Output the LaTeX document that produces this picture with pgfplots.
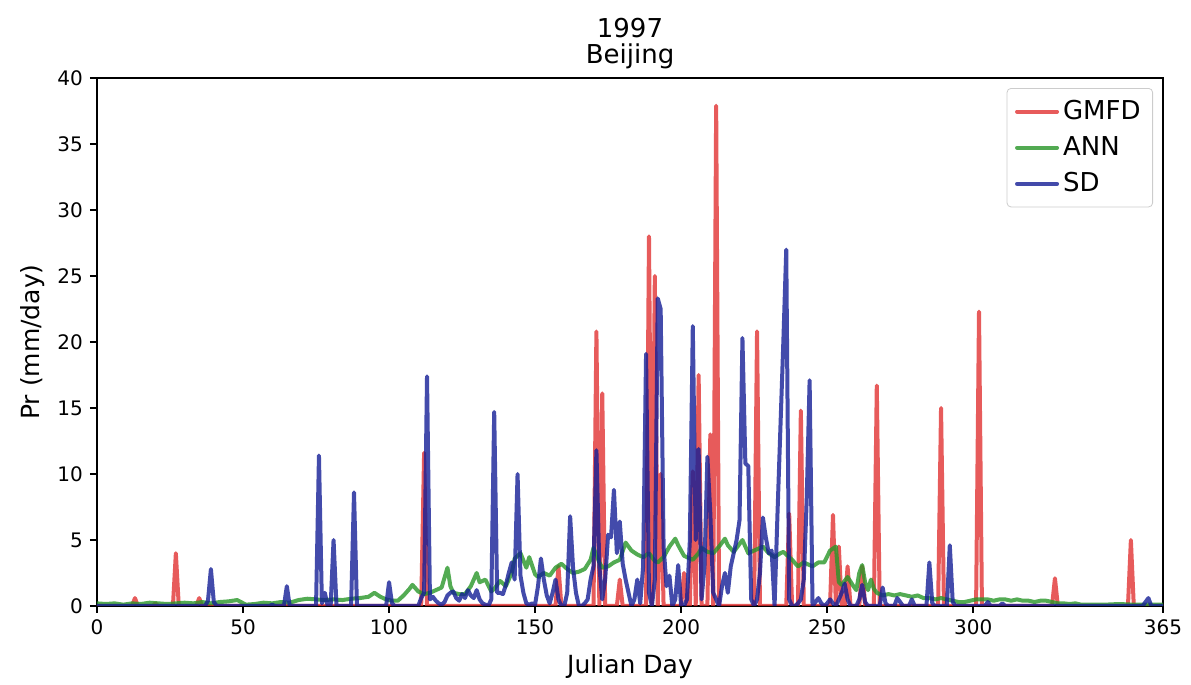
\documentclass[border=0pt]{standalone}
\usepackage{fontspec}
\setmainfont{DejaVu Sans}
\usepackage{pgfplots}
\pgfplotsset{compat=1.18}

\definecolor{gmfd}{RGB}{225,50,50}
\definecolor{ann}{RGB}{40,150,40}
\definecolor{sd}{RGB}{20,30,150}

\begin{document}
\begin{tikzpicture}
\path[use as bounding box] (0,0) rectangle (595.5pt,342.5pt);
\begin{axis}[
  at={(48.5pt,39.5pt)}, anchor=south west,
  scale only axis, width=533pt, height=264pt,
  xmin=0, xmax=365, ymin=0, ymax=40,
  xtick={0,50,100,150,200,250,300,365},
  ytick={0,5,...,40},
  tick align=outside, tick pos=left,
  major tick length=3.5pt,
  every tick/.style={black, line width=0.8pt},
  axis line style={black, line width=0.8pt},
  /pgf/number format/assume math mode=true,
  tick label style={font=\fontsize{10}{12}\selectfont},
  xlabel={Julian Day}, ylabel={Pr (mm/day)},
  label style={font=\fontsize{12.5}{15}\selectfont},
  xlabel style={at={(axis description cs:0.5,-0.114)}, anchor=center},
  ylabel style={at={(axis description cs:-0.06,0.5)}, anchor=center},
  title={1997\\Beijing},
  title style={at={(axis description cs:0.5,1)}, anchor=south, align=center,
    inner sep=0pt, yshift=-1.5pt, font=\fontsize{13}{13}\selectfont},
  legend style={at={(axis description cs:1,1)}, anchor=north east,
    xshift=-5pt, yshift=-5pt, draw=black!20, rounded corners=2pt,
    fill=white, fill opacity=0.8, text opacity=1,
    inner xsep=4pt, inner ysep=4pt, row sep=3pt,
    font=\fontsize{13}{15}\selectfont,
    /tikz/every even column/.append style={column sep=6pt}},
  legend cell align=left,
  legend image code/.code={\draw[#1] (0pt,0pt) -- (20pt,0pt);},
  every axis plot/.append style={line width=2pt, line join=round, line cap=round, opacity=0.8},
]

% GMFD observations
\addplot[gmfd] coordinates {
(0,0) (12,0) (13,0.6) (14,0) (19,0) (20,0.2) (21,0) (26,0) (27,4.0) (28,0)
(34,0) (35,0.6) (36,0) (111,0) (112,11.6) (113,0) (157,0) (158,3.0) (159,0)
(170,0) (171,20.8) (172,0) (173,16.1) (174,0) (178,0) (179,2.0) (180,0)
(188,0) (189,28.0) (190,0) (191,25.0) (192,0) (193,10.0) (194,0)
(200,0) (201,2.5) (202,0) (203,0) (204,10.2) (205,0) (206,17.5) (207,0)
(209,0) (210,13.0) (211,0) (212,37.9) (213,0) (225,0) (226,20.8) (227,0)
(236,0) (237,7.0) (238,0) (240,0) (241,14.8) (242,0) (251,0) (252,6.9) (253,0)
(254,4.5) (255,0) (256,0) (257,3.0) (258,0) (261,0) (262,3.0) (263,0)
(266,0) (267,16.7) (268,0) (288,0) (289,15.0) (290,0) (301,0) (302,22.3) (303,0)
(327,0) (328,2.1) (329,0) (353,0) (354,5.0) (355,0) (365,0)
};
\addlegendentry{GMFD}

% ANN downscaling
\addplot[ann] coordinates {
(0,0.2) (3,0.15) (6,0.2) (9,0.1) (12,0.2) (15,0.15) (18,0.25) (21,0.2) (24,0.15)
(27,0.2) (30,0.25) (33,0.2) (36,0.3) (39,0.2) (42,0.3) (45,0.35) (48,0.45) (51,0.1)
(54,0.15) (57,0.25) (60,0.2) (63,0.3) (66,0.25) (69,0.45) (72,0.55) (75,0.5) (78,0.45)
(81,0.5) (84,0.45) (87,0.55) (90,0.6) (93,0.7) (95,1.0) (97,0.7) (99,0.5) (101,0.4)
(103,0.4) (105,0.8) (107,1.3) (108,1.6) (110,1.1) (112,0.9) (114,1.0) (116,1.2)
(118,1.4) (120,2.9) (121,1.5) (122,1.0) (124,0.9) (126,0.9) (128,1.5) (130,2.5)
(131,1.8) (133,2.0) (135,1.1) (136,1.3) (138,1.9) (140,1.5) (142,2.5) (143,3.6)
(145,4.0) (147,2.9) (148,3.7) (150,2.4) (151,2.2) (153,2.5) (155,2.3) (157,2.9)
(159,3.2) (161,2.8) (163,2.5) (165,2.6) (167,2.8) (169,3.5) (170,4.4) (172,3.3)
(173,2.9) (175,3.0) (177,3.3) (179,3.5) (181,4.8) (183,4.2) (185,3.9) (187,3.7)
(189,4.0) (191,3.4) (192,3.3) (194,3.7) (196,4.5) (198,5.1) (199,4.6) (201,3.8)
(202,3.7) (204,3.5) (206,4.0) (207,4.4) (209,4.1) (211,4.0) (213,4.5) (215,5.1)
(216,4.6) (218,4.1) (220,4.7) (221,5.0) (223,4.0) (225,4.2) (227,4.4) (228,4.5)
(230,4.0) (232,3.7) (234,4.0) (235,4.1) (237,3.7) (238,3.5) (240,3.0) (242,3.3)
(243,3.2) (245,3.0) (247,3.3) (249,3.3) (251,4.2) (253,4.5) (254,1.8) (255,1.6)
(257,2.2) (259,1.5) (260,1.2) (261,2.5) (262,3.1) (263,1.8) (264,1.2) (265,2.0)
(266,1.3) (267,1.0) (269,0.8) (271,0.9) (273,0.8) (275,0.9) (277,0.8) (279,0.7)
(281,0.8) (283,0.6) (285,0.6) (287,0.5) (289,0.6) (291,0.5) (293,0.4) (295,0.3)
(297,0.3) (299,0.4) (301,0.5) (303,0.5) (305,0.5) (307,0.4) (309,0.5) (311,0.5)
(313,0.4) (315,0.5) (317,0.4) (319,0.4) (321,0.3) (323,0.4) (325,0.4) (327,0.3)
(329,0.2) (331,0.2) (333,0.15) (335,0.2) (337,0.1) (340,0.1) (345,0.1) (350,0.15)
(355,0.1) (360,0.1) (365,0.1)
};
\addlegendentry{ANN}

% Statistical downscaling
\addplot[sd] coordinates {
(0,0) (37,0) (38,0.4) (39,2.8) (40,0.3) (41,0) (59,0) (60,0.1) (61,0) (64,0)
(65,1.5) (66,0) (75,0) (76,11.4) (77,0.2) (78,1.0) (79,0) (80,0) (81,5.0) (82,0)
(87,0) (88,8.6) (89,0) (99,0) (100,1.8) (101,0.2) (102,0) (110,0) (111,0.6)
(112,1.0) (113,17.4) (114,0.5) (115,0.7) (116,0.4) (117,0.2) (118,0.1) (119,0.3)
(120,0.8) (121,1.0) (122,1.1) (123,0.6) (124,0.4) (125,0.9) (126,0.6) (127,1.2)
(128,0.8) (129,0.6) (130,1.2) (131,0.5) (132,0.2) (133,0.1) (134,0) (135,0.5)
(136,14.7) (137,1.0) (138,1.0) (139,0.9) (140,1.6) (141,2.5) (142,3.3) (143,2.0)
(144,10.0) (145,2.3) (146,1.0) (147,0.2) (148,0.1) (149,0.2) (150,0.1) (151,1.5)
(152,3.6) (153,2.0) (154,0.8) (155,0.2) (156,1.0) (157,2.0) (158,0.5) (159,0)
(160,0) (161,1.0) (162,6.8) (163,2.9) (164,1.0) (165,0) (166,0) (167,0.2) (168,0.5)
(169,2.0) (170,3.0) (171,11.8) (172,3.0) (173,0.5) (174,2.0) (175,5.4) (176,5.2)
(177,8.8) (178,4.0) (179,6.4) (180,3.2) (181,2.0) (182,1.0) (183,0) (184,0.5)
(185,2.0) (186,0.2) (187,3.0) (188,19.1) (189,1.0) (190,0) (191,2.0) (192,23.3)
(193,22.5) (194,4.5) (195,1.5) (196,2.3) (197,0) (198,0.5) (199,3.1) (200,0)
(201,0) (202,0.5) (203,5.0) (204,21.2) (205,5.0) (206,11.9) (207,0.5) (208,3.0)
(209,11.3) (210,7.0) (211,1.0) (212,0.5) (213,0) (214,1.5) (215,2.5) (216,1.0)
(217,3.0) (218,4.0) (219,5.0) (220,6.5) (221,20.3) (222,10.8) (223,10.6) (224,0.5)
(225,0) (226,0.5) (227,2.5) (228,6.7) (229,5.2) (230,4.0) (231,4.2) (232,0)
(233,7.0) (234,13.5) (235,20.0) (236,27.0) (237,0.5) (238,0) (239,0) (240,0.2)
(241,0.5) (242,2.0) (243,8.0) (244,17.1) (245,0) (246,0.3) (247,0.6) (248,0.2)
(249,0) (250,0.2) (251,0.5) (252,0.2) (253,0) (254,0.5) (255,1.0) (256,1.7)
(257,0.5) (258,0) (260,0) (261,0.5) (262,1.6) (263,0.3) (264,0) (268,0) (269,1.4)
(270,0.2) (271,0) (273,0) (274,0.6) (275,0.3) (276,0) (278,0) (279,0.5) (280,0)
(284,0) (285,3.3) (286,0.2) (287,0) (291,0) (292,4.6) (293,0.3) (294,0) (304,0)
(305,0.3) (306,0) (309,0) (310,0.2) (311,0) (358,0) (359,0.3) (360,0.6) (361,0)
(365,0)
};
\addlegendentry{SD}
\end{axis}
\end{tikzpicture}
\end{document}
